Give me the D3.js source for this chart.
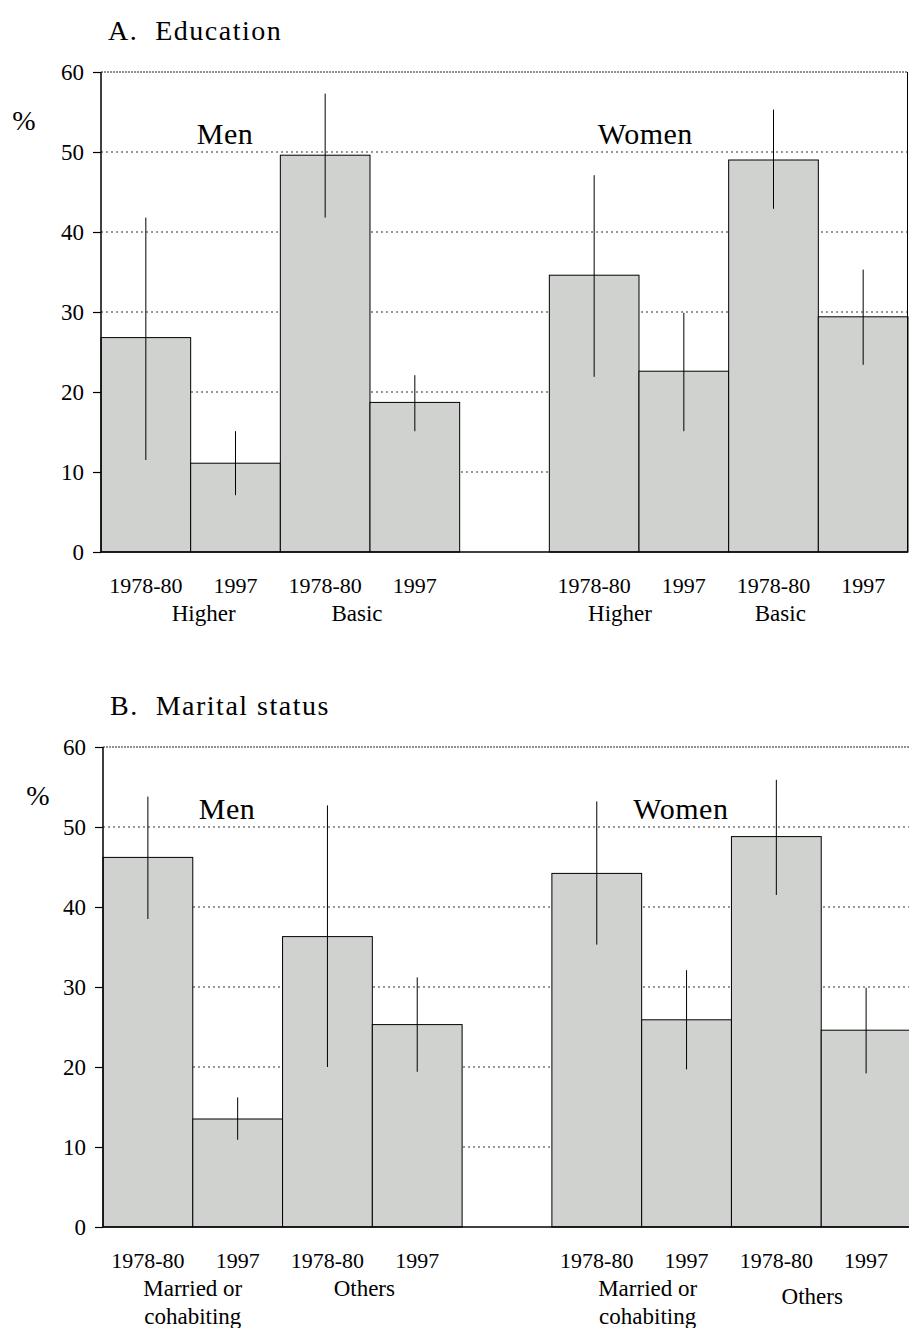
<!DOCTYPE html>
<html><head><meta charset="utf-8">
<script src="https://cdn.jsdelivr.net/npm/d3@7"></script>
<style>body{margin:0;background:#fff}svg{display:block}svg text{font-family:"Liberation Serif","Times New Roman",Times,serif !important;fill:#000;white-space:pre}</style>
</head><body>
<svg id="c" width="909" height="1328" font-family="Liberation Serif"></svg>
<script>
// ---- data ----
const periods = ["1978-80","1997"];
const sexes = ["Men","Women"];
const yTicks = [0,10,20,30,40,50,60];

const eduCategories = ["Higher","Basic"];
const eduValues = [26.8, 11.1, 49.6, 18.7, 34.6, 22.6, 49.0, 29.4];
const eduLow    = [11.5,  7.1, 41.8, 15.1, 21.9, 15.1, 42.9, 23.4];
const eduHigh   = [41.8, 15.1, 57.3, 22.1, 47.1, 29.9, 55.3, 35.3];

const marCategories = [["Married or","cohabiting"],["Others"]];
const marValues = [46.2, 13.5, 36.3, 25.3, 44.2, 25.9, 48.8, 24.6];
const marLow    = [38.5, 10.9, 20.0, 19.4, 35.3, 19.7, 41.5, 19.2];
const marHigh   = [53.8, 16.2, 52.7, 31.2, 53.2, 32.1, 55.9, 29.9];

const svg = d3.select("#c");
const FF = '"Liberation Serif","Times New Roman",Times,serif';

function panel(cfg){
  const g = svg.append("g");
  const slots = d3.range(9);
  const x = d3.scaleBand().domain(slots).range([cfg.left, cfg.right]).padding(0);
  const y = d3.scaleLinear().domain([0,60]).range([cfg.bottom, cfg.top]);
  const slotOf = i => i < 4 ? i : i + 1;

  // title
  g.append("text").attr("x", cfg.left + 7).attr("y", cfg.top - 32)
    .style("font-family", FF).style("font-size","28px").style("letter-spacing","1.5px").text(cfg.title);
  g.append("text").attr("x", cfg.pctX).attr("y", y(54) + 10).attr("text-anchor","middle")
    .style("font-family", FF).style("font-size","28px").text("%");

  // gridlines
  g.append("g").selectAll("line").data(yTicks.filter(t => t > 0)).join("line")
    .attr("x1", cfg.left).attr("x2", cfg.right)
    .attr("y1", d => y(d)).attr("y2", d => y(d))
    .attr("stroke", d => d === 60 ? "#222" : "#333")
    .attr("stroke-width", 1)
    .attr("stroke-dasharray", d => d === 60 ? "2,1" : "2,3");

  // bars
  const data = cfg.values.map((v,i) => ({v, lo: cfg.low[i], hi: cfg.high[i], s: slotOf(i), p: periods[i % 2]}));
  g.append("g").selectAll("rect").data(data).join("rect")
    .attr("x", d => x(d.s)).attr("width", x.bandwidth())
    .attr("y", d => y(d.v)).attr("height", d => y(0) - y(d.v))
    .attr("fill", "#d0d2d0").attr("stroke", "#000").attr("stroke-width", 1);

  // error lines
  g.append("g").selectAll("line").data(data).join("line")
    .attr("x1", d => x(d.s) + x.bandwidth()/2).attr("x2", d => x(d.s) + x.bandwidth()/2)
    .attr("y1", d => y(d.lo)).attr("y2", d => y(d.hi))
    .attr("stroke", "#000").attr("stroke-width", 1);

  if (cfg.rightBorder) {
    g.append("line").attr("x1", cfg.right - 0.5).attr("x2", cfg.right - 0.5)
      .attr("y1", y(60)).attr("y2", y(0)).attr("stroke","#000").attr("stroke-width",1);
  }

  // y axis
  const ax = g.append("g").attr("transform", `translate(${cfg.left},0)`)
    .call(d3.axisLeft(y).tickValues(yTicks).tickSize(8).tickPadding(9));
  ax.attr("font-family", null);
  ax.select(".domain").attr("stroke","#000").attr("stroke-width",1.5).attr("d", `M0,${y(60)}V${y(0)}`);
  ax.selectAll(".tick line").attr("stroke","#000").attr("stroke-width",1.2);
  ax.selectAll(".tick text").style("font-size","23px").style("font-family",FF).attr("dy","0.34em");

  // x baseline
  g.append("line").attr("x1", cfg.left).attr("x2", cfg.right)
    .attr("y1", y(0)).attr("y2", y(0)).attr("stroke","#000").attr("stroke-width",1.5);

  // sex labels
  sexes.forEach((s, k) => {
    const cx = x(k*5) + (cfg.sexOffsets[k]);
    g.append("text").attr("x", cx).attr("y", y(50) - 8).attr("text-anchor","middle")
      .style("font-family", FF).style("font-size","30px").style("letter-spacing","0.5px").text(s);
  });

  // period labels
  g.append("g").selectAll("text").data(data).join("text")
    .attr("x", d => x(d.s) + x.bandwidth()/2).attr("y", y(0) + 41)
    .attr("text-anchor","middle").style("font-family", FF).style("font-size","22px").text(d => d.p);

  // category labels
  sexes.forEach((s, k) => {
    cfg.categories.forEach((c, j) => {
      const mid = x(k*5 + j*2 + 1) + cfg.catOffsets[k*2 + j];
      const lines = Array.isArray(c) ? c : [c];
      const y0 = y(0) + 69 + (cfg.catDy ? cfg.catDy[k*2 + j] : 0);
      const t = g.append("text").attr("text-anchor","middle").style("font-family", FF).style("font-size","23px");
      lines.forEach((ln, m) => t.append("tspan").attr("x", mid).attr("y", y0 + m*28).text(ln));
    });
  });
}

panel({
  title: "A.  Education", left: 101, right: 908, top: 72, bottom: 552, pctX: 24,
  values: eduValues, low: eduLow, high: eduHigh, categories: eduCategories,
  sexOffsets: [124, 96], catOffsets: [13, -13, -19, -38], rightBorder: true
});

panel({
  title: "B.  Marital status", left: 103, right: 911, top: 747, bottom: 1227, pctX: 38,
  values: marValues, low: marLow, high: marHigh, categories: marCategories,
  sexOffsets: [124, 129], catOffsets: [0, -8, 6, -9], catDy: [0, 0, 0, 8], rightBorder: false
});
</script>
</body></html>
